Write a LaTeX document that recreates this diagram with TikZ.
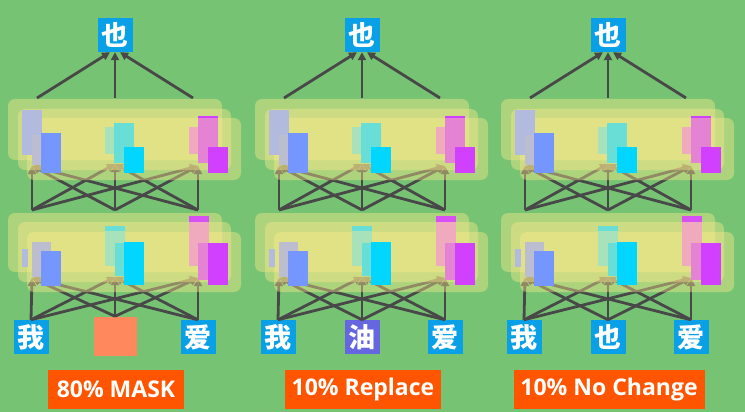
\documentclass[tikz,border=0pt]{standalone}
\usepackage{fontspec}
\setmainfont{Open Sans}
\newfontfamily\cjk{Noto Sans CJK SC}
\usetikzlibrary{arrows.meta}
\definecolor{bg}{RGB}{119,195,116}
\definecolor{boxy}{RGB}{255,235,140}
\definecolor{linec}{RGB}{72,72,72}
\definecolor{tokblue}{RGB}{10,160,232}
\definecolor{masko}{RGB}{255,136,92}
\definecolor{purp}{RGB}{102,102,224}
\definecolor{labo}{RGB}{255,85,0}
\definecolor{lav}{RGB}{178,186,222}
\definecolor{lavg}{RGB}{188,190,208}
\definecolor{bluer}{RGB}{117,150,255}
\definecolor{mint}{RGB}{168,226,186}
\definecolor{cyanmid}{RGB}{104,222,214}
\definecolor{cyanr}{RGB}{0,214,255}
\definecolor{pinkr}{RGB}{240,170,190}
\definecolor{magmid}{RGB}{228,130,212}
\definecolor{magr}{RGB}{210,64,255}
\tikzset{
  ybox/.style={rounded corners=7pt, fill=boxy, fill opacity=0.4},
  conn/.style={draw=linec, line width=2.8pt, -{Triangle[length=8pt,width=8pt]}},
  tok/.style={fill=tokblue, text=white, minimum width=35pt, minimum height=34pt, inner sep=0pt,
    font=\cjk\bfseries\fontsize{27}{27}\selectfont},
  lab/.style={fill=labo, text=white, minimum height=39pt, inner sep=0pt,
    font=\bfseries\fontsize{23}{23}\selectfont},
}
\begin{document}
\begin{tikzpicture}[x=1pt,y=-1pt]
\fill[bg] (0,0) rectangle (745,412);
\useasboundingbox (0,0) rectangle (745,412);
\foreach \p/\dx/\lw/\lab in {1/0/136/80\% MASK, 2/247/156/10\% Replace, 3/493/191/10\% No Change}{
\begin{scope}[xshift=\dx]
  % named endpoints
  \coordinate (s1-\p) at (32,210); \coordinate (s2-\p) at (115,210); \coordinate (s3-\p) at (198,210);
  \coordinate (e1-\p) at (32,166); \coordinate (e2-\p) at (115,164); \coordinate (e3-\p) at (198,166);
  \coordinate (t1-\p) at (37,98); \coordinate (t2-\p) at (115,98); \coordinate (t3-\p) at (193,98);
  \coordinate (f1-\p) at (32,278); \coordinate (f2-\p) at (115,277); \coordinate (f3-\p) at (198,278);
  % tokens
  \node[tok] (top-\p) at (115,35) {也};
  \node[tok] (inA-\p) at (31,337) {我};
  \node[tok] (inC-\p) at (198,337) {爱};
  \ifnum\p=1
    \node[fill=masko, minimum width=43pt, minimum height=39pt, inner sep=0pt] (inB-\p) at (115,336) {};
  \else\ifnum\p=2
    \node[tok, fill=purp] (inB-\p) at (115,337) {油};
  \else
    \node[tok] (inB-\p) at (115,337) {也};
  \fi\fi
  \node[lab, minimum width=\lw pt] (lab-\p) at (116,389.5) {\lab};
  % connectors layer1 -> layer2
  \foreach \i in {1,2,3}{\foreach \j in {1,2,3}{\draw[conn] (s\i-\p) -- (e\j-\p);}}
  % layer 2 boxes
  \fill[ybox] (8,99) rectangle (222,160);
  \fill[ybox] (18,109) rectangle (231,170);
  \fill[ybox] (27,118) rectangle (241,180);
  % layer 2 rects
  \fill[lav] (22,110) rectangle (42,155);
  \fill[lavg] (32,135) rectangle (42,165);
  \fill[bluer] (41,133) rectangle (61,173);
  \fill[mint] (105,127) rectangle (125,154);
  \fill[cyanmid] (114,123) rectangle (134,163);
  \fill[cyanr] (124,147) rectangle (144,173);
  \fill[pinkr] (189,127) rectangle (209,154);
  \fill[magmid] (198,116) rectangle (218,163);
  \fill[magr] (198,116) rectangle (218,118);
  \fill[magr] (208,147) rectangle (228,173);
  % top connectors
  \draw[conn] (t1-\p) -- ([xshift=-5pt]top-\p.south);
  \draw[conn] (t2-\p) -- (top-\p.south);
  \draw[conn] (t3-\p) -- ([xshift=5pt]top-\p.south);
  % input connectors
  \foreach \n in {A,B,C}{\foreach \j in {1,2,3}{\draw[conn] (in\n-\p.north) -- (f\j-\p);}}
  % layer 1 boxes
  \fill[ybox] (8,213) rectangle (222,272);
  \fill[ybox] (18,222) rectangle (231,282);
  \fill[ybox] (27,232) rectangle (241,292);
  % layer 1 rects
  \fill[lav] (22,249) rectangle (28,267);
  \fill[lavg] (32,242) rectangle (51,277);
  \fill[bluer] (41,251) rectangle (61,286);
  \fill[mint] (105,226) rectangle (125,266);
  \fill[cyanmid] (105,226) rectangle (125,231);
  \fill[cyanmid] (115,243) rectangle (125,276);
  \fill[cyanr] (124,242) rectangle (144,285);
  \fill[pinkr] (189,216) rectangle (209,266);
  \fill[magr!85!pinkr] (189,216) rectangle (209,222);
  \fill[magmid] (198,243) rectangle (209,280);
  \fill[magr] (208,243) rectangle (228,285);
\end{scope}}
\end{tikzpicture}
\end{document}
